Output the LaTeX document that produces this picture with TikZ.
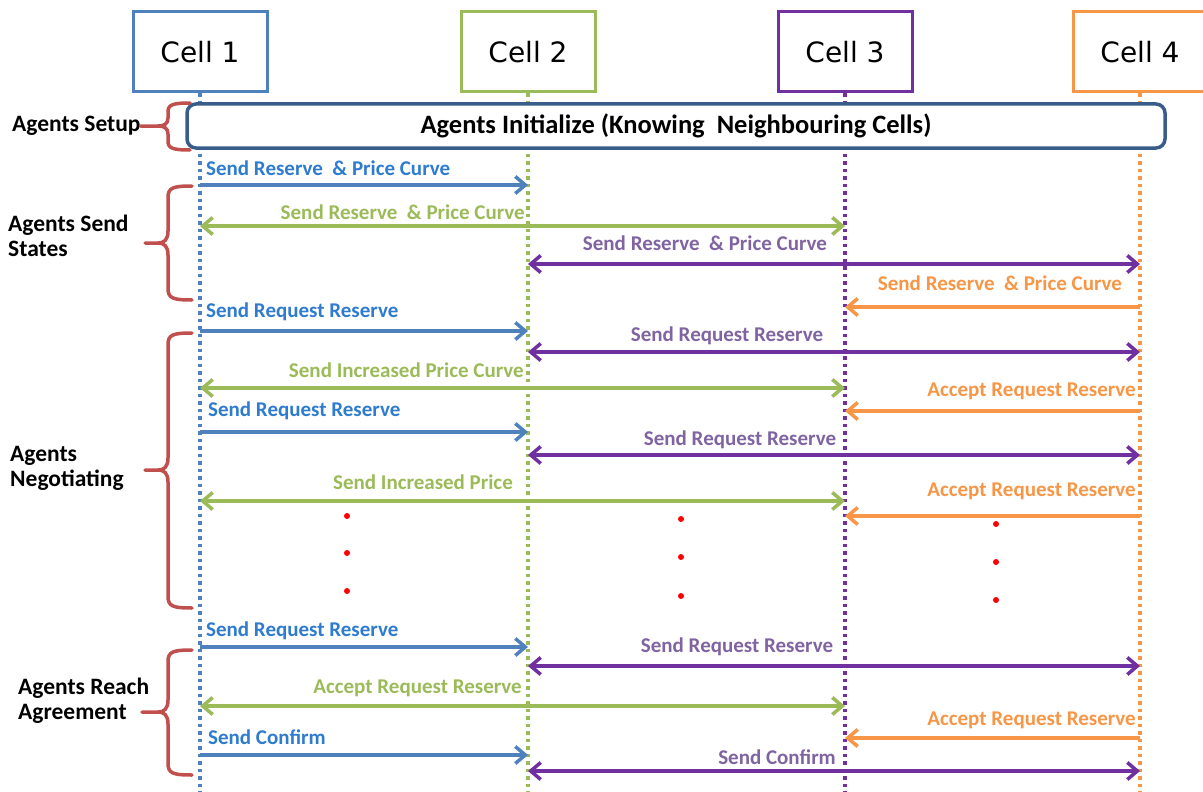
\documentclass[tikz,border=0pt]{standalone}
\usepackage{fontspec}
\setmainfont{Carlito}
\newfontfamily\cellfont{DejaVu Sans}
\usetikzlibrary{arrows.meta, positioning}

\definecolor{cblue}{HTML}{4F81BD}
\definecolor{tblue}{HTML}{2E7BCF}
\definecolor{cgreen}{HTML}{9BBB59}
\definecolor{cpurple}{HTML}{7030A0}
\definecolor{tpurple}{HTML}{8064A2}
\definecolor{corange}{HTML}{F79646}
\definecolor{cred}{HTML}{C0504D}
\definecolor{cnavy}{HTML}{385D8A}

\tikzset{
  cellbox/.style = {draw=#1, line width=3pt, fill=white, minimum width=134pt, minimum height=80pt,
                    inner sep=0pt, font=\cellfont\fontsize{28}{30}\selectfont},
  life/.style    = {draw=#1, line width=3.5pt, dash pattern=on 3.5pt off 4pt},
  msg/.style     = {draw=#1, line width=3.5pt, ->},
  msgb/.style    = {draw=#1, line width=3.5pt, <->},
  msglbl/.style  = {text=#1, inner sep=0pt, font=\fontsize{21}{24}\selectfont\bfseries},
  phase/.style   = {inner sep=0pt, align=left, font=\fontsize{23.5}{25}\selectfont\bfseries},
  phasebrace/.style = {draw=cred, line width=3.5pt, line cap=round}
}

\begin{document}
\begin{tikzpicture}[x=1pt, y=-1pt, >={Straight Barb[length=10pt, width=17pt]}]
\useasboundingbox (0,0) rectangle (1203,792);

% cells and lifelines
\node[cellbox=cblue]   (cell1) at (200,52)  {Cell 1};
\node[cellbox=cgreen]  (cell2) at (528,52)  {Cell 2};
\node[cellbox=cpurple] (cell3) at (845,52)  {Cell 3};
\node[cellbox=corange] (cell4) at (1140,52) {Cell 4};
\coordinate (end1) at (cell1 |- 0,792);
\coordinate (end2) at (cell2 |- 0,792);
\coordinate (end3) at (cell3 |- 0,792);
\coordinate (end4) at (cell4 |- 0,792);
\draw[life=cblue]   (cell1) -- (end1);
\draw[life=cgreen]  (cell2) -- (end2);
\draw[life=cpurple] (cell3) -- (end3);
\draw[life=corange] (cell4) -- (end4);
\node[cellbox=cblue]   at (cell1) {Cell 1};
\node[cellbox=cgreen]  at (cell2) {Cell 2};
\node[cellbox=cpurple] at (cell3) {Cell 3};
\node[cellbox=corange] at (cell4) {Cell 4};

\node[draw=cnavy, line width=3.5pt, rounded corners=9pt, fill=white, minimum width=978pt, minimum height=44pt,
      font=\fontsize{26.5}{28}\selectfont\bfseries] (init) at (676,126) {Agents Initialize (Knowing\ \ Neighbouring Cells)};

% phases
\node[phase, anchor=west] (setup)  at (12,126)  {Agents Setup};
\node[phase, anchor=west] (states) at (8,236)   {Agents Send\\States};
\node[phase, anchor=west] (negot)  at (10,468)  {Agents\\Negotiating};
\node[phase, anchor=west] (agree)  at (18,701)  {Agents Reach\\Agreement};

\draw[phasebrace] (190,103) .. controls (172,103) and (168,105) .. (168,112) -- (168,118)
  .. controls (168,124) and (164,126) .. (158,126) -- (setup.east)
  (158,126) .. controls (164,126) and (168,128) .. (168,134) -- (168,141)
  .. controls (168,148) and (172,150) .. (190,150);
\draw[phasebrace] (192,186) .. controls (172,186) and (168,188) .. (168,198) -- (168,231)
  .. controls (168,240) and (164,243) .. (158,243) -- (145,243)
  (158,243) .. controls (164,243) and (168,246) .. (168,255) -- (168,288)
  .. controls (168,298) and (172,300) .. (192,300);
\draw[phasebrace] (192,333) .. controls (172,333) and (168,335) .. (168,345) -- (168,458)
  .. controls (168,467) and (164,470) .. (158,470) -- (145,470)
  (158,470) .. controls (164,470) and (168,473) .. (168,482) -- (168,596)
  .. controls (168,606) and (172,608) .. (192,608);
\draw[phasebrace] (192,650) .. controls (172,650) and (168,652) .. (168,662) -- (168,700)
  .. controls (168,709) and (164,712) .. (158,712) -- (142,712)
  (158,712) .. controls (164,712) and (168,715) .. (168,724) -- (168,763)
  .. controls (168,773) and (172,775) .. (192,775);

% send states
\draw[msg=cblue]     (cell1 |- 0,185) -- (cell2 |- 0,185);
\draw[msgb=cgreen]   (cell1 |- 0,226) -- (cell3 |- 0,226);
\draw[msgb=cpurple]  (cell2 |- 0,264) -- (cell4 |- 0,264);
\draw[msg=corange]   (cell4 |- 0,307) -- (cell3 |- 0,307);
\node[msglbl=tblue, anchor=west]   (s1) at (206,168)  {Send Reserve\ \ \& Price Curve};
\node[msglbl=cgreen, anchor=east]  (s2) at (525,212)  {Send Reserve\ \ \& Price Curve};
\node[msglbl=tpurple]              (s3) at (705,243)  {Send Reserve\ \ \& Price Curve};
\node[msglbl=corange]              (s4) at (1000,283) {Send Reserve\ \ \& Price Curve};

% negotiating
\draw[msg=cblue]     (cell1 |- 0,331) -- (cell2 |- 0,331);
\draw[msgb=cpurple]  (cell2 |- 0,352) -- (cell4 |- 0,352);
\draw[msgb=cgreen]   (cell1 |- 0,388) -- (cell3 |- 0,388);
\draw[msg=corange]   (cell4 |- 0,411) -- (cell3 |- 0,411);
\draw[msg=cblue]     (cell1 |- 0,432) -- (cell2 |- 0,432);
\draw[msgb=cpurple]  (cell2 |- 0,455) -- (cell4 |- 0,455);
\draw[msgb=cgreen]   (cell1 |- 0,501) -- (cell3 |- 0,501);
\draw[msg=corange]   (cell4 |- 0,516) -- (cell3 |- 0,516);
\node[msglbl=tblue, anchor=west]    (n1) at (206,312)  {Send Request Reserve};
\node[msglbl=tpurple]               (n2) at (727,336)  {Send Request Reserve};
\node[msglbl=cgreen, anchor=east]   (n3) at (524,370)  {Send Increased Price Curve};
\node[msglbl=corange, anchor=east]  (n4) at (1136,391) {Accept Request Reserve};
\node[msglbl=tblue, anchor=west]    (n5) at (208,411)  {Send Request Reserve};
\node[msglbl=tpurple]               (n6) at (740,440)  {Send Request Reserve};
\node[msglbl=cgreen]                (n7) at (423,482)  {Send Increased Price};
\node[msglbl=corange, anchor=east]  (n8) at (1136,491) {Accept Request Reserve};

\fill[red] (347,516) circle (3pt) (347,553) circle (3pt) (347,591) circle (3pt);
\fill[red] (681,519) circle (3pt) (681,557) circle (3pt) (681,596) circle (3pt);
\fill[red] (996,524) circle (3pt) (996,562) circle (3pt) (996,600) circle (3pt);

% reach agreement
\draw[msg=cblue]     (cell1 |- 0,647) -- (cell2 |- 0,647);
\draw[msgb=cpurple]  (cell2 |- 0,666) -- (cell4 |- 0,666);
\draw[msgb=cgreen]   (cell1 |- 0,706) -- (cell3 |- 0,706);
\draw[msg=corange]   (cell4 |- 0,738) -- (cell3 |- 0,738);
\draw[msg=cblue]     (cell1 |- 0,755) -- (cell2 |- 0,755);
\draw[msgb=cpurple]  (cell2 |- 0,771) -- (cell4 |- 0,771);
\node[msglbl=tblue, anchor=west]    (a1) at (206,631)  {Send Request Reserve};
\node[msglbl=tpurple]               (a2) at (737,647)  {Send Request Reserve};
\node[msglbl=cgreen, anchor=east]   (a3) at (522,688)  {Accept Request Reserve};
\node[msglbl=corange, anchor=east]  (a4) at (1136,720) {Accept Request Reserve};
\node[msglbl=tblue, anchor=west]    (a5) at (208,737)  {Send Confirm};
\node[msglbl=tpurple, anchor=east]  (a6) at (836,757)  {Send Confirm};
\end{tikzpicture}
\end{document}
